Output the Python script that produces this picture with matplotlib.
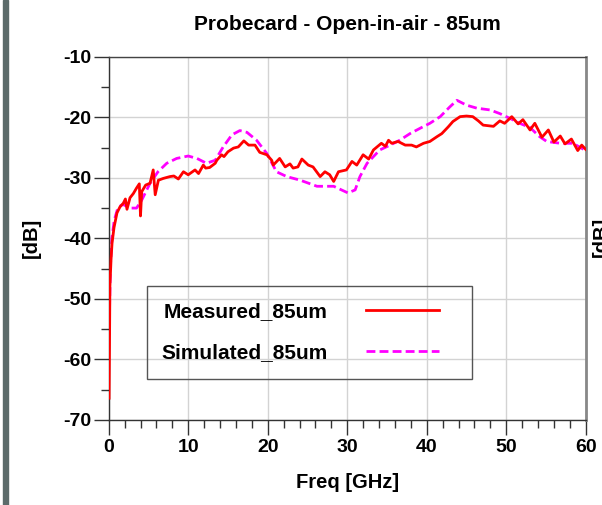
import matplotlib
matplotlib.use('Agg')
import matplotlib.pyplot as plt
from matplotlib.patches import Rectangle
from matplotlib.ticker import MultipleLocator

## fonts / general look ##
plt.rcParams['font.family'] = ['Liberation Sans', 'DejaVu Sans']
plt.rcParams['font.weight'] = 'bold'
plt.rcParams['axes.unicode_minus'] = False

## data ##
meas_f = [0.05, 0.1, 0.15, 0.29, 0.42, 0.67, 1.04, 1.42, 1.84, 2.1, 2.3, 2.68, 3.1, 3.5, 3.85,
          4.0, 4.15, 4.65, 5.2, 5.6, 5.85, 6.25, 6.87, 7.7, 8.2, 8.76, 9.4, 10.0, 10.86, 11.3,
          11.9, 12.2, 12.7, 13.4, 13.6, 14.2, 14.5, 15.0, 15.7, 16.3, 17.0, 17.6, 18.4, 19.0,
          19.9, 20.5, 20.7, 21.5, 22.2, 22.8, 23.2, 23.8, 24.3, 25.1, 25.7, 26.6, 27.2, 27.8,
          28.3, 28.9, 29.9, 30.6, 31.2, 32.0, 32.7, 33.3, 34.3, 34.8, 35.2, 35.6, 36.4, 37.3,
          38.1, 38.7, 39.6, 40.4, 41.3, 41.9, 42.7, 43.3, 44.2, 45.0, 45.8, 46.5, 47.1, 48.4,
          49.2, 49.8, 50.7, 51.5, 52.1, 53.0, 53.6, 54.5, 55.3, 56.0, 56.8, 57.4, 58.2, 59.0,
          59.5, 60.0]
meas_db = [-66.4, -58, -48, -43.6, -40.8, -38.2, -35.8, -34.8, -34.2, -33.5, -35.2, -33.3, -32.6, -31.7, -31.0,
           -36.3, -32.3, -31.2, -30.9, -28.7, -32.8, -30.4, -30.1, -29.8, -29.7, -30.2, -29.0, -29.5, -28.7, -29.3,
           -27.9, -28.4, -28.3, -27.6, -27.1, -26.2, -26.5, -25.7, -25.1, -24.9, -23.9, -24.6, -24.6, -25.8,
           -26.2, -27.1, -27.9, -26.8, -28.2, -27.7, -28.4, -28.2, -26.9, -27.9, -28.2, -29.8, -29.0, -29.5,
           -30.6, -29.0, -28.7, -27.3, -27.9, -26.2, -26.9, -25.4, -24.3, -24.8, -23.8, -24.3, -24.0, -24.6,
           -24.6, -24.9, -24.3, -24.0, -23.2, -22.7, -21.6, -20.7, -19.9, -19.8, -19.9, -20.6, -21.3, -21.5,
           -20.6, -21.0, -19.9, -21.1, -20.4, -22.1, -21.0, -23.3, -22.1, -24.1, -23.1, -24.4, -23.6, -25.5,
           -24.6, -25.3]

sim_f = [0.05, 0.2, 0.4, 0.7, 1.1, 1.5, 1.8, 2.7, 3.5, 4.15, 5.2, 6.2, 7.3, 8.55, 10.0, 11.1, 12.3,
         13.4, 14.4, 15.5, 16.5, 17.4, 18.6, 19.9, 21.1, 22.4, 24.1, 26.2, 28.3, 30.1, 31.0, 31.6,
         32.5, 34.1, 35.4, 36.6, 37.9, 39.2, 40.4, 41.7, 42.9, 43.8, 45.0, 46.3, 48.0, 49.2, 50.5,
         51.7, 53.0, 54.2, 55.1, 56.8, 58.4, 60.0]
sim_db = [-56, -45, -40, -37, -35.2, -34.6, -34.4, -35.0, -35.0, -33.7, -30.9, -29.0, -27.6, -26.8, -26.4, -26.8, -27.6,
          -27.1, -24.9, -22.9, -22.2, -22.5, -23.8, -26.0, -29.0, -29.8, -30.4, -31.4, -31.4, -32.5, -32.0, -29.8,
          -27.6, -25.4, -24.6, -23.8, -22.7, -21.8, -21.0, -19.9, -18.3, -17.2, -18.0, -18.5, -18.8, -19.4, -20.2,
          -21.0, -21.7, -23.2, -24.0, -24.3, -24.3, -25.5]

## figure ##
fig = plt.figure(figsize=(6.02, 5.05), dpi=100)
ax = fig.add_axes([108.7 / 602, 1 - 420 / 505, 477 / 602, 363.3 / 505])

# dark bar on the left edge
fig.patches.append(Rectangle((3 / 602, 0), 5 / 602, 1, transform=fig.transFigure,
                             color='#5c6b6a', zorder=0))

ax.plot(sim_f, sim_db, color='#ff00ff', lw=2, dashes=(3.2, 1.5), label='Simulated_85um', zorder=2)
ax.plot(meas_f, meas_db, color='#ff0000', lw=2, label='Measured_85um', zorder=3)

ax.set_xlim(0, 60)
ax.set_ylim(-70, -10)
ax.xaxis.set_major_locator(MultipleLocator(10))
ax.xaxis.set_minor_locator(MultipleLocator(2))
ax.yaxis.set_major_locator(MultipleLocator(10))
ax.yaxis.set_minor_locator(MultipleLocator(5))
ax.grid(True, which='major', color='#d3d3d3', lw=1)
ax.set_axisbelow(True)

ax.tick_params(which='major', length=10.8, width=1, color='#333333', labelsize=14)
ax.tick_params(which='minor', length=5.8, width=1, color='#333333')
ax.tick_params(axis='x', which='major', pad=3)
ax.tick_params(axis='y', which='major', pad=1.5)
for lab in ax.get_xticklabels() + ax.get_yticklabels():
    lab.set_fontweight('bold')

for s in ['left', 'bottom']:
    ax.spines[s].set_color('#333333')
    ax.spines[s].set_linewidth(1)
ax.spines['top'].set_color('#444444')
ax.spines['top'].set_linewidth(1)
ax.spines['right'].set_color('#888888')
ax.spines['right'].set_linewidth(2)

ax.set_xlabel('Freq [GHz]', fontsize=14.5, fontweight='bold', va='center')
ax.xaxis.set_label_coords(0.5, (420 - 483) / 363.3)
ax.set_ylabel('[dB]', fontsize=14.5, fontweight='bold', va='center')
ax.yaxis.set_label_coords((31 - 108.7) / 477, 0.5)

fig.text(347.2 / 602, 1 - 25 / 505, 'Probecard - Open-in-air - 85um', ha='center', va='center',
         fontsize=15, fontweight='bold')
# clipped label of a second axis at the right edge
fig.text(601 / 602, 1 - 237 / 505, '[dB]', rotation=90, ha='center', va='center',
         rotation_mode='anchor', fontsize=14.5, fontweight='bold')

## legend: text left, line right, with a plain frame ##
ax.add_patch(Rectangle(((146.7 - 108.7) / 477, (420 - 379) / 363.3), 325 / 477, 93 / 363.3,
                       transform=ax.transAxes, fill=False, edgecolor='#555555', lw=1, zorder=4))
h, l = ax.get_legend_handles_labels()
leg = ax.legend(h[::-1], l[::-1], loc='upper left', bbox_to_anchor=((161 - 108.7) / 477, (420 - 302) / 363.3),
                frameon=False, markerfirst=False, borderpad=0, borderaxespad=0,
                handlelength=3.5, handletextpad=1.87, labelspacing=1.05,
                prop={'size': 15, 'weight': 'bold'})

fig.savefig('out.png', dpi=100)
